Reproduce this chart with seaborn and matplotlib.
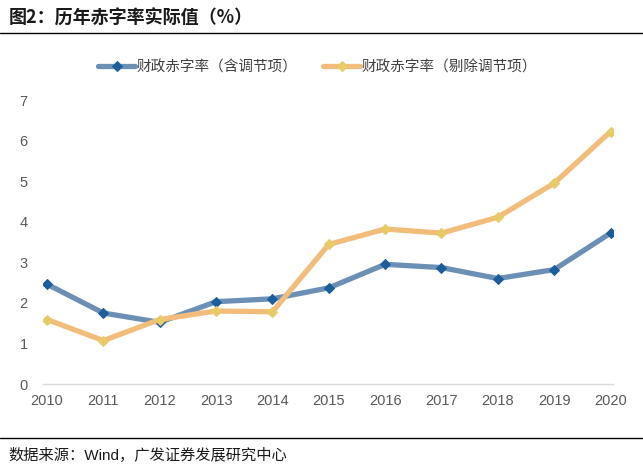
import pandas as pd
import numpy as np
import seaborn as sns
import matplotlib.pyplot as plt
from matplotlib.lines import Line2D

# 数据
years = [2010, 2011, 2012, 2013, 2014, 2015, 2016, 2017, 2018, 2019, 2020]
deficit_with_adj = [2.46, 1.75, 1.52, 2.03, 2.10, 2.37, 2.95, 2.87, 2.60, 2.82, 3.72]
deficit_without_adj = [1.59, 1.07, 1.59, 1.80, 1.78, 3.44, 3.82, 3.72, 4.11, 4.95, 6.22]
label_with = '财政赤字率（含调节项）'
label_without = '财政赤字率（剔除调节项）'

sns.set_style('white')
plt.rcParams['font.family'] = ['Liberation Sans', 'Noto Sans CJK SC', 'DejaVu Sans']

fig = plt.figure(figsize=(6.43, 4.72), dpi=100)
ax = fig.add_axes([0.067, 0.1864, 0.886, 0.6017])

sns.lineplot(x=years, y=deficit_with_adj, ax=ax, color='#6C90B5', linewidth=3.8,
             marker='D', markersize=5.5, markerfacecolor='#1C5E9C',
             markeredgecolor='#1C5E9C', label=label_with)
sns.lineplot(x=years, y=deficit_without_adj, ax=ax, color='#F2BD7A', linewidth=3.8,
             marker='D', markersize=5.5, markerfacecolor='#E8CA66',
             markeredgecolor='#E8CA66', label=label_without)

ax.set_xlim(2009.93, 2020.04)
ax.set_ylim(0, 7)
ax.set_xticks(years)
ax.set_yticks(range(0, 8))
ax.tick_params(axis='both', length=0, labelsize=10.5, labelcolor='#595959')
ax.tick_params(axis='y', pad=11)
ax.tick_params(axis='x', pad=7)
for s in ['top', 'right', 'left']:
    ax.spines[s].set_visible(False)
ax.spines['bottom'].set_color('#D9D9D9')
ax.spines['bottom'].set_linewidth(1)

leg = ax.legend(loc='center', bbox_to_anchor=(0.494, 0.857), bbox_transform=fig.transFigure,
                ncol=2, frameon=False, handlelength=2.5, columnspacing=1.8,
                handletextpad=0.1, prop={'family': ['Noto Sans CJK SC'], 'size': 10.5})
for t in leg.get_texts():
    t.set_color('#404040')

# 标题和来源
fig.text(0.013, 0.962, '图2：历年赤字率实际值（%）', fontsize=13, fontweight='bold',
         family=['Noto Sans CJK SC'], va='center', ha='left', color='#1a1a1a')
fig.add_artist(Line2D([0, 1], [0.930, 0.930], color='black', linewidth=1))
fig.add_artist(Line2D([0, 1], [0.071, 0.071], color='black', linewidth=1))
fig.text(0.013, 0.036, '数据来源：Wind，广发证券发展研究中心', fontsize=11,
         family=['Liberation Sans', 'Noto Sans CJK SC'], va='center', ha='left', color='#1a1a1a')

plt.savefig('out.png', dpi=100)
